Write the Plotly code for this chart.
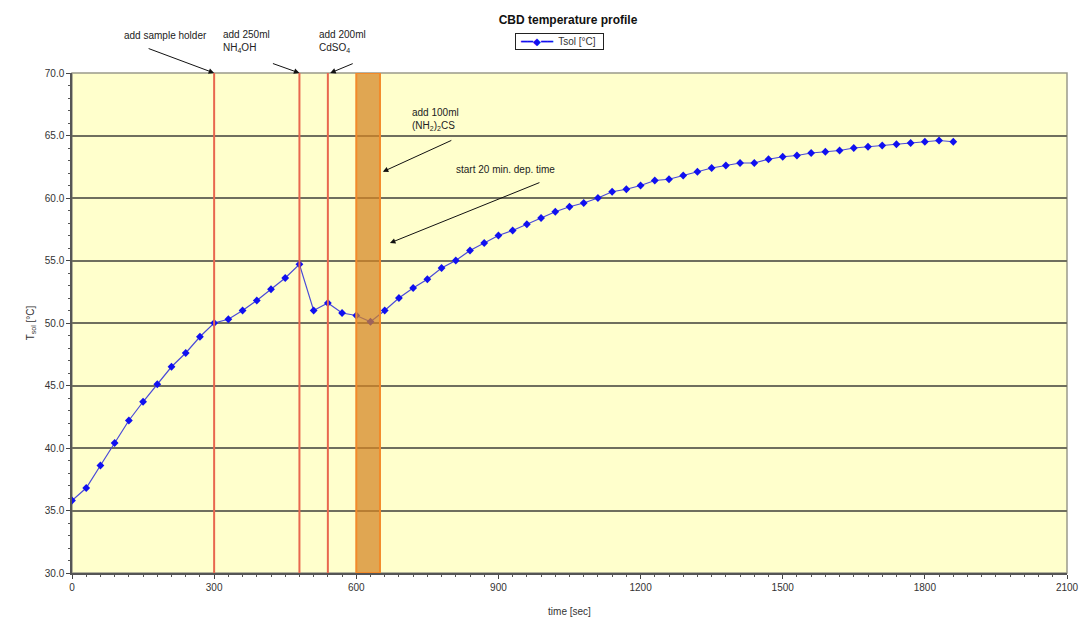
import plotly.graph_objects as go

# Solution temperature during the chemical bath deposition run
time_s = [0, 30, 60, 90, 120, 150, 180, 210, 240, 270,
          300, 330, 360, 390, 420, 450, 480, 510, 540, 570,
          600, 630, 660, 690, 720, 750, 780, 810, 840, 870,
          900, 930, 960, 990, 1020, 1050, 1080, 1110, 1140, 1170,
          1200, 1230, 1260, 1290, 1320, 1350, 1380, 1410, 1440, 1470,
          1500, 1530, 1560, 1590, 1620, 1650, 1680, 1710, 1740, 1770,
          1800, 1830, 1860]
t_sol = [35.8, 36.8, 38.6, 40.4, 42.2, 43.7, 45.1, 46.5, 47.6, 48.9,
         50.0, 50.3, 51.0, 51.8, 52.7, 53.6, 54.7, 51.0, 51.6, 50.8,
         50.6, 50.1, 51.0, 52.0, 52.8, 53.5, 54.4, 55.0, 55.8, 56.4,
         57.0, 57.4, 57.9, 58.4, 58.9, 59.3, 59.6, 60.0, 60.5, 60.7,
         61.0, 61.4, 61.5, 61.8, 62.1, 62.4, 62.6, 62.8, 62.8, 63.1,
         63.3, 63.4, 63.6, 63.7, 63.8, 64.0, 64.1, 64.2, 64.3, 64.4,
         64.5, 64.6, 64.5]

# Reagent additions (s) and the thiourea addition window (s)
event_times = [300, 480, 540]
thiourea_window = [600, 650]

x_ticks = [0, 300, 600, 900, 1200, 1500, 1800, 2100]
y_ticks = [30, 35, 40, 45, 50, 55, 60, 65, 70]

series_name = "Tsol [°C]"

FONT = "Liberation Sans, Arial, sans-serif"
W, H = 1091, 628
L, R, T, B = 72, 17, 73, 55
PW, PH = W - L - R, H - T - B

LINE_COLOR = "#4a4ad8"
MARKER_COLOR = "#1010f0"


def px(xp):
    return (xp - L) / PW


def py(yp):
    return 1 - (yp - T) / PH


fig = go.Figure()
fig.add_trace(go.Scatter(
    x=time_s, y=t_sol, mode="lines+markers", name=series_name,
    line=dict(color=LINE_COLOR, width=1.2),
    marker=dict(symbol="diamond", size=6, color=MARKER_COLOR),
    showlegend=False,
))

shapes = []
for t in event_times:
    shapes.append(dict(type="line", xref="x", yref="y", x0=t, x1=t, y0=30, y1=70,
                       line=dict(color="#e8674e", width=2), layer="above"))
shapes.append(dict(type="rect", xref="x", yref="y",
                   x0=thiourea_window[0], x1=thiourea_window[1], y0=30, y1=70,
                   fillcolor="rgba(212,132,34,0.72)",
                   line=dict(color="#f28a2a", width=2), layer="above"))

txt = dict(family=FONT, size=10, color="#222222")
annotations = [
    dict(text="add sample holder", xref="paper", yref="paper", x=px(122), y=py(28),
         showarrow=False, font=txt),
    dict(text="add 250ml<br>NH<sub>4</sub>OH", xref="paper", yref="paper",
         x=px(222), y=py(27), xanchor="left", align="left", showarrow=False, font=txt),
    dict(text="add 200ml<br>CdSO<sub>4</sub>", xref="paper", yref="paper",
         x=px(319), y=py(27), xanchor="left", align="left", showarrow=False, font=txt),
    dict(text="add 100ml<br>(NH<sub>2</sub>)<sub>2</sub>CS", xref="paper", yref="paper",
         x=px(412), y=py(105), xanchor="left", align="left", showarrow=False, font=txt),
    dict(text="start 20 min. dep. time", xref="paper", yref="paper",
         x=px(457), y=py(162), xanchor="left", showarrow=False, font=txt),
    # compact boxed legend under the title
    dict(text=f'&nbsp;<span style="color:{MARKER_COLOR}">━━◆━━</span>&nbsp; {series_name}&nbsp;&nbsp;',
         xref="paper", yref="paper", x=px(563), y=py(42),
         xanchor="center", yanchor="middle", showarrow=False,
         font=dict(family=FONT, size=10, color="#333333"),
         bgcolor="white", bordercolor="#222222", borderwidth=1, borderpad=2),
]

arrow = dict(showarrow=True, arrowhead=2, arrowsize=1.1, arrowwidth=1,
             arrowcolor="#111111", text="", axref="pixel", ayref="pixel")
for x, y, ax, ay in [(300, 70, -67, -25), (480, 70, -28, -10), (545, 70, 24, -10),
                     (656, 62.1, 70, -32), (671, 56.4, 151, -61)]:
    a = dict(arrow)
    a.update(x=x, y=y, xref="x", yref="y", ax=ax, ay=ay)
    annotations.append(a)

fig.update_layout(
    width=W, height=H,
    margin=dict(l=L, r=R, t=T, b=B),
    paper_bgcolor="white",
    plot_bgcolor="#ffffcc",
    font=dict(family=FONT, size=10, color="#333333"),
    title=dict(text="<b>CBD temperature profile</b>", x=568 / W, xref="container",
               y=1 - 20 / H, yref="container", xanchor="center", yanchor="middle",
               font=dict(family=FONT, size=12, color="#111111")),
    showlegend=False,
    shapes=shapes,
    annotations=annotations,
    xaxis=dict(range=[0, 2100], tickvals=x_ticks, ticktext=[str(v) for v in x_ticks],
               showgrid=False, zeroline=False,
               showline=True, linecolor="#555555", linewidth=1.5, mirror=False,
               ticks="outside", ticklen=4, tickcolor="#444444",
               minor=dict(dtick=30, ticks="outside", ticklen=2, tickcolor="#555555"),
               title=dict(text="time [sec]", font=dict(family=FONT, size=10, color="#333333"),
                          standoff=16)),
    yaxis=dict(range=[30, 70], tickvals=y_ticks, ticktext=[f"{v:.1f}" for v in y_ticks],
               showgrid=True, gridcolor="#6f6f5e", gridwidth=2, zeroline=False,
               showline=True, linecolor="#555555", linewidth=1.5,
               ticks="outside", ticklen=4, tickcolor="#444444",
               minor=dict(dtick=1, ticks="outside", ticklen=2, tickcolor="#555555",
                          showgrid=False),
               title=dict(text="T<sub>sol</sub> [°C]", font=dict(family=FONT, size=10, color="#333333"),
                          standoff=8)),
)

# Gray frame along the top and right of the plotting area
fig.add_shape(type="rect", xref="paper", yref="paper", x0=0, x1=1, y0=0, y1=1,
              line=dict(color="#9a9a8a", width=1.5), layer="below")

fig.write_html("out.html")
